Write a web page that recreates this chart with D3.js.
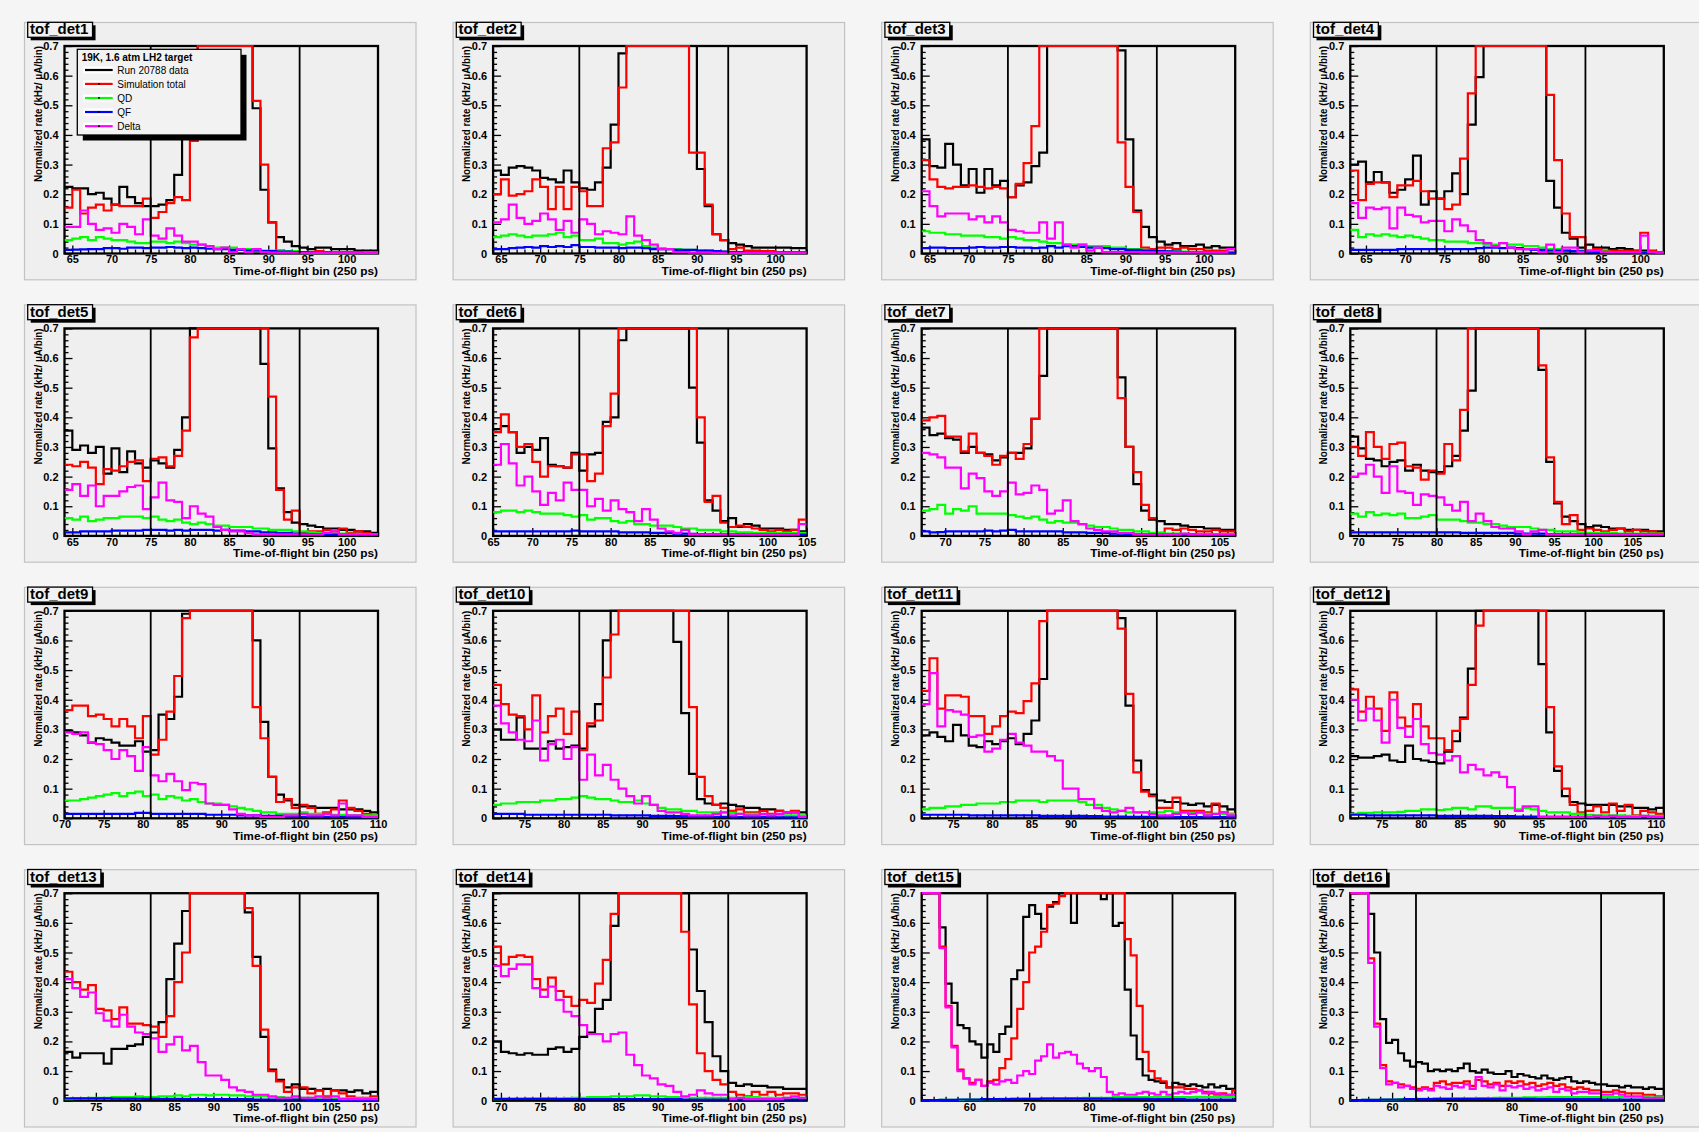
<!DOCTYPE html>
<html><head><meta charset="utf-8">
<script src="https://cdn.jsdelivr.net/npm/d3@7"></script>
<style>
html,body{margin:0;padding:0;background:#f5f5f5;}
svg{display:block;}
text{font-family:"Liberation Sans",Arial,Helvetica,sans-serif;}
</style></head><body>
<svg id="chart" width="1699" height="1132"></svg>
<script>
// ---------------- data ----------------
const detNames = ["tof_det1","tof_det2","tof_det3","tof_det4","tof_det5","tof_det6","tof_det7","tof_det8",
                  "tof_det9","tof_det10","tof_det11","tof_det12","tof_det13","tof_det14","tof_det15","tof_det16"];
const xMin = [64,64,64,63,64,65,67,69,70,71,71,71,71,69,52,53];
const xMax = [104,104,104,103,104,105,107,109,110,111,111,111,111,109,104.5,105.5];
const xTickStep = [5,5,5,5,5,5,5,5,5,5,5,5,5,5,10,10];
const cutLow  = [75,75,75,74,75,76,78,80,81,82,82,82,82,80,63,64];
const cutHigh = [94,94,94,93,94,95,97,99,100,101,101,101,101,99,94,95];
const yTicks = [0,0.1,0.2,0.3,0.4,0.5,0.6,0.7];
const legendTitle = "19K, 1.6 atm LH2 target";
const seriesLabels = ["Run 20788 data","Simulation total","QD","QF","Delta"];
const yTitle = "Normalized rate (kHz/ \u03bcA/bin)";
const xTitle = "Time-of-flight bin (250 ps)";

// values per bin (bin k covers [xMin+k, xMin+k+1]); values above 0.7 are off scale
const runData = [
 [.225,.22,.22,.20,.205,.185,.165,.225,.19,.17, .16,.16,.165,.18,.265,.42,.6,.9,.9,.9, .9,.9,.9,.9,.49,.215,.105,.055,.04,.025, .02,.015,.02,.02,.015,.015,.015,.01,.01,.01],
 [.28,.265,.29,.295,.29,.28,.255,.25,.24,.28, .24,.22,.215,.24,.29,.435,.675,.9,.9,.9, .9,.9,.9,.9,.9,.9,.285,.16,.065,.045, .035,.03,.025,.02,.02,.02,.02,.02,.018,.018],
 [.385,.295,.29,.37,.3,.23,.285,.205,.285,.23, .245,.19,.23,.24,.295,.34,.9,.9,.9,.9, .9,.9,.9,.9,.9,.685,.385,.145,.09,.055, .04,.03,.035,.025,.025,.03,.02,.025,.02,.02],
 [.3,.31,.24,.275,.24,.205,.215,.25,.33,.165, .21,.185,.21,.27,.2,.435,.595,.9,.9,.9, .9,.9,.9,.9,.9,.245,.155,.07,.05,.02, .03,.02,.02,.015,.018,.015,.01,.01,.008,.005],
 [.355,.29,.305,.28,.3,.21,.295,.215,.285,.245, .23,.255,.245,.23,.29,.4,.9,.9,.9,.9, .9,.9,.9,.9,.9,.58,.295,.16,.08,.045, .04,.035,.03,.025,.025,.02,.02,.015,.015,.01],
 [.36,.37,.35,.28,.3,.29,.33,.24,.235,.23, .28,.22,.275,.28,.385,.4,.66,.9,.9,.9, .9,.9,.9,.9,.9,.5,.315,.12,.085,.05, .06,.03,.04,.035,.025,.025,.025,.02,.02,.015],
 [.365,.34,.345,.33,.325,.28,.3,.28,.275,.255, .265,.28,.28,.295,.395,.54,.9,.9,.9,.9, .9,.9,.9,.9,.9,.535,.3,.175,.085,.055, .05,.04,.04,.035,.03,.03,.025,.025,.02,.02],
 [.335,.295,.26,.255,.235,.25,.255,.22,.24,.22, .215,.215,.235,.27,.355,.49,.9,.9,.9,.9, .9,.9,.9,.9,.56,.25,.11,.065,.05,.04, .03,.035,.03,.025,.025,.02,.02,.02,.015,.015],
 [.295,.29,.28,.255,.27,.265,.255,.245,.245,.26, .225,.23,.35,.335,.41,.69,.9,.9,.9,.9, .9,.9,.9,.9,.6,.325,.14,.08,.06,.045, .04,.04,.035,.035,.035,.03,.03,.03,.025,.02],
 [.3,.265,.265,.34,.235,.235,.235,.26,.235,.24, .245,.235,.31,.385,.6,.9,.9,.9,.9,.9, .9,.9,.9,.595,.355,.15,.065,.05,.045,.05, .045,.04,.035,.035,.03,.03,.025,.02,.02,.02],
 [.28,.29,.275,.26,.315,.28,.245,.24,.26,.25, .26,.27,.25,.285,.33,.47,.9,.9,.9,.9, .9,.9,.9,.9,.9,.675,.38,.195,.095,.08, .06,.055,.055,.05,.045,.05,.04,.045,.04,.03],
 [.21,.205,.205,.21,.215,.195,.19,.245,.2,.195, .19,.185,.225,.26,.34,.505,.9,.9,.9,.9, .9,.9,.9,.9,.52,.29,.16,.075,.055,.05, .045,.045,.045,.045,.04,.04,.035,.035,.03,.035],
 [.165,.145,.16,.16,.16,.125,.175,.175,.185,.19, .215,.23,.265,.41,.53,.64,.9,.9,.9,.9, .9,.9,.9,.635,.485,.215,.105,.07,.045,.055, .04,.04,.035,.04,.035,.035,.03,.035,.025,.03],
 [.2,.165,.16,.155,.16,.155,.155,.175,.18,.165, .175,.215,.23,.31,.34,.59,.9,.9,.9,.9, .9,.9,.9,.9,.9,.51,.37,.265,.15,.1, .06,.05,.055,.05,.05,.045,.045,.04,.04,.04],
 [.9,.9,.9,.585,.395,.33,.255,.245,.2,.19, .145,.19,.165,.225,.25,.41,.44,.62,.66,.63, .58,.655,.67,.9,.9,.6,.9,.9,.9,.9, .68,.9,.59,.6,.375,.22,.14,.085,.07,.065, .06,.045,.06,.055,.05,.055,.05,.045,.055,.045, .05,.04,.04],
 [.9,.9,.9,.63,.5,.275,.195,.205,.16,.135, .115,.13,.125,.1,.105,.1,.105,.1,.11,.125, .1,.095,.105,.095,.09,.09,.1,.08,.09,.085, .08,.075,.085,.075,.07,.075,.08,.065,.06,.065, .06,.055,.055,.05,.05,.045,.05,.045,.045,.04, .045,.04,.04]
];
const simTotal = [
 [.155,.215,.135,.155,.165,.145,.165,.16,.16,.16, .185,.12,.14,.17,.19,.18,.38,.9,.9,.9, .9,.9,.9,.9,.515,.30,.105,.01,.005,.005, .005,.005,.008,.005,.005,.005,.005,.005,.005,.003],
 [.2,.25,.195,.2,.21,.25,.225,.15,.225,.15, .225,.21,.16,.16,.355,.375,.56,.9,.9,.9, .9,.9,.9,.9,.9,.34,.34,.165,.065,.045, .015,.02,.01,.01,.008,.008,.005,.005,.005,.005],
 [.315,.25,.225,.22,.225,.225,.23,.225,.22,.225, .22,.19,.235,.305,.43,.9,.9,.9,.9,.9, .9,.9,.9,.9,.9,.375,.225,.14,.02,.015, .02,.02,.015,.02,.015,.015,.01,.01,.01,.015],
 [.28,.18,.235,.24,.24,.19,.23,.23,.245,.21, .185,.185,.15,.165,.32,.54,.9,.9,.9,.9, .9,.9,.9,.9,.9,.535,.315,.135,.055,.055, .01,.015,.01,.01,.01,.01,.008,.07,.01,.005],
 [.24,.235,.25,.23,.175,.225,.22,.235,.25,.255, .185,.26,.265,.235,.27,.355,.67,.9,.9,.9, .9,.9,.9,.9,.9,.9,.47,.155,.055,.085, .01,.015,.015,.02,.015,.025,.01,.015,.01,.005],
 [.35,.41,.35,.3,.31,.25,.2,.235,.235,.23, .275,.275,.185,.21,.37,.48,.9,.9,.9,.9, .9,.9,.9,.9,.9,.9,.4,.115,.135,.045, .03,.035,.03,.025,.02,.015,.02,.015,.02,.055],
 [.39,.4,.405,.335,.335,.285,.345,.28,.27,.24, .27,.28,.26,.31,.395,.9,.9,.9,.9,.9, .9,.9,.9,.9,.9,.465,.3,.215,.105,.06, .01,.025,.02,.025,.02,.015,.015,.02,.015,.015],
 [.3,.27,.35,.3,.26,.31,.315,.235,.23,.19, .22,.21,.31,.255,.425,.9,.9,.9,.9,.9, .9,.9,.9,.9,.575,.265,.115,.04,.07,.02, .025,.02,.015,.02,.025,.015,.02,.015,.015,.01],
 [.365,.38,.38,.345,.35,.335,.31,.335,.31,.27, .345,.215,.265,.36,.48,.675,.9,.9,.9,.9, .9,.9,.9,.9,.375,.27,.14,.055,.065,.035, .045,.035,.015,.02,.03,.06,.035,.025,.015,.01],
 [.45,.385,.35,.345,.3,.415,.29,.345,.37,.285, .36,.23,.32,.33,.475,.62,.9,.9,.9,.9, .9,.9,.9,.9,.9,.375,.14,.075,.045,.035, .025,.03,.02,.02,.025,.015,.025,.02,.025,.005],
 [.43,.54,.37,.415,.415,.41,.345,.345,.285,.31, .345,.36,.355,.395,.455,.665,.9,.9,.9,.9, .9,.9,.9,.9,.9,.64,.42,.155,.09,.075, .035,.035,.07,.025,.025,.025,.02,.05,.02,.015],
 [.435,.36,.41,.37,.295,.425,.34,.31,.385,.31, .27,.27,.23,.295,.335,.45,.65,.9,.9,.9, .9,.9,.9,.9,.9,.375,.175,.1,.045,.02, .025,.04,.02,.05,.025,.045,.01,.025,.02,.015],
 [.435,.4,.375,.39,.31,.305,.275,.315,.26,.26, .255,.25,.215,.285,.4,.5,.9,.9,.9,.9, .9,.9,.9,.65,.455,.24,.1,.065,.03,.045, .045,.025,.035,.015,.035,.025,.015,.01,.01,.015],
 [.52,.46,.485,.49,.485,.41,.375,.415,.37,.35, .32,.34,.33,.395,.475,.63,.9,.9,.9,.9, .9,.9,.9,.9,.57,.325,.16,.1,.07,.055, .03,.02,.015,.03,.02,.03,.02,.025,.025,.02],
 [.9,.9,.9,.52,.32,.185,.105,.075,.06,.07, .05,.065,.07,.11,.14,.21,.31,.4,.5,.52, .57,.66,.665,.69,.9,.9,.9,.9,.9,.9, .9,.9,.9,.9,.545,.49,.32,.165,.1,.075, .065,.045,.045,.045,.04,.04,.035,.03,.025,.02, .025,.02,.035],
 [.9,.9,.9,.48,.26,.12,.065,.06,.055,.05, .045,.04,.045,.04,.06,.065,.055,.06,.06,.065, .05,.07,.065,.055,.06,.05,.065,.06,.065,.055, .06,.05,.055,.06,.05,.055,.045,.04,.045,.04, .035,.035,.03,.03,.035,.03,.025,.025,.025,.02, .02,.015,.015]
];
const qdSim = [
 [.045,.05,.055,.045,.055,.05,.045,.045,.04,.035, .035,.04,.04,.035,.04,.035,.03,.03,.025,.02, .02,.02,.015,.015,.015,.01,.01,.01,.008,.008, .005,.005,.005,.005,.005,.005,.005,.004,.004,.004],
 [.055,.06,.065,.06,.055,.06,.06,.065,.07,.055, .06,.045,.045,.05,.035,.035,.03,.035,.04,.025, .02,.018,.015,.015,.012,.012,.01,.01,.008,.006, .005,.005,.005,.004,.004,.004,.003,.003,.003,.003],
 [.075,.07,.07,.065,.065,.06,.06,.06,.055,.055, .05,.055,.05,.045,.045,.04,.035,.035,.03,.03, .03,.025,.025,.025,.02,.02,.015,.015,.012,.01, .01,.008,.007,.006,.005,.005,.005,.004,.004,.004],
 [.08,.055,.065,.06,.065,.06,.055,.06,.055,.05, .045,.045,.04,.04,.04,.035,.035,.03,.03,.035, .03,.03,.025,.025,.02,.015,.015,.01,.01,.01, .008,.007,.006,.005,.005,.005,.004,.004,.004,.004],
 [.06,.055,.065,.05,.055,.06,.06,.065,.065,.065, .06,.065,.055,.05,.055,.045,.04,.045,.04,.035, .035,.03,.03,.03,.025,.025,.02,.02,.02,.015, .015,.012,.01,.01,.008,.008,.007,.006,.005,.005],
 [.08,.085,.085,.08,.085,.08,.075,.075,.075,.07, .065,.07,.055,.06,.06,.05,.045,.05,.04,.04, .035,.035,.035,.03,.025,.025,.02,.02,.02,.015, .015,.012,.012,.01,.01,.01,.01,.01,.01,.01],
 [.085,.09,.105,.075,.09,.085,.1,.075,.075,.075, .075,.07,.065,.06,.065,.055,.045,.05,.045,.045, .04,.035,.03,.03,.025,.02,.02,.015,.015,.01, .01,.008,.008,.007,.006,.005,.005,.005,.005,.005],
 [.075,.065,.08,.07,.075,.07,.075,.06,.06,.065, .07,.055,.055,.055,.05,.045,.045,.04,.04,.035, .03,.03,.03,.025,.02,.02,.015,.015,.015,.012, .01,.01,.01,.01,.008,.008,.008,.008,.008,.008],
 [.06,.06,.065,.07,.075,.08,.085,.075,.085,.09, .075,.08,.065,.075,.07,.06,.065,.055,.05,.05, .045,.04,.035,.03,.025,.02,.02,.015,.015,.015, .02,.015,.015,.015,.012,.012,.01,.01,.01,.01],
 [.045,.05,.05,.055,.055,.055,.06,.06,.065,.065, .07,.075,.07,.065,.065,.06,.055,.055,.06,.05, .045,.035,.03,.03,.025,.025,.02,.02,.02,.02, .018,.015,.015,.015,.012,.012,.01,.01,.01,.01],
 [.03,.035,.035,.04,.04,.045,.045,.05,.05,.05, .055,.055,.06,.06,.06,.055,.06,.06,.06,.06, .055,.045,.045,.035,.03,.025,.02,.02,.02,.02, .02,.025,.02,.02,.018,.018,.015,.015,.015,.015],
 [.015,.018,.018,.02,.02,.02,.022,.025,.025,.03, .03,.028,.03,.035,.035,.03,.04,.04,.035,.035, .035,.03,.035,.03,.025,.02,.02,.02,.015,.015, .012,.01,.01,.01,.01,.008,.008,.008,.008,.008],
 [.005,.008,.008,.01,.01,.01,.012,.012,.012,.015, .012,.012,.015,.015,.018,.015,.02,.02,.018,.02, .02,.018,.018,.015,.015,.015,.012,.012,.01,.01, .01,.01,.01,.01,.008,.008,.008,.008,.008,.008],
 [.005,.006,.006,.006,.007,.007,.008,.008,.008,.009, .01,.01,.012,.012,.012,.015,.015,.015,.018,.018, .015,.015,.012,.012,.012,.01,.01,.01,.01,.01, .01,.01,.012,.012,.01,.01,.01,.01,.01,.01],
 [.002,.002,.002,.003,.003,.003,.003,.004,.004,.004, .005,.005,.005,.006,.006,.006,.006,.007,.007,.007, .008,.008,.008,.008,.009,.009,.009,.01,.01,.01, .01,.01,.012,.012,.012,.012,.012,.012,.012,.012, .012,.012,.012,.012,.012,.012,.013,.013,.013,.013, .013,.013,.013],
 [.002,.002,.003,.003,.003,.004,.004,.004,.005,.005, .005,.006,.006,.006,.007,.007,.007,.008,.008,.008, .008,.009,.009,.009,.01,.01,.01,.01,.01,.011, .011,.011,.011,.012,.012,.012,.012,.012,.012,.012, .012,.012,.012,.012,.012,.012,.012,.012,.012,.012, .011,.011,.011]
];
const qfSim = [
 [.012,.013,.014,.015,.015,.018,.018,.016,.02,.02, .018,.02,.02,.022,.02,.018,.02,.018,.016,.015, .015,.012,.012,.01,.01,.008,.008,.006,.006,.005, .005,.004,.004,.004,.003,.003,.003,.003,.002,.002],
 [.015,.015,.018,.02,.022,.02,.025,.022,.025,.022, .028,.022,.022,.02,.02,.02,.018,.02,.02,.018, .015,.015,.015,.012,.012,.012,.01,.01,.008,.006, .005,.005,.004,.004,.004,.003,.003,.003,.003,.003],
 [.018,.02,.02,.018,.018,.018,.02,.022,.02,.02, .022,.022,.02,.02,.018,.02,.025,.02,.025,.025, .022,.02,.02,.018,.015,.015,.012,.012,.01,.01, .008,.007,.006,.005,.005,.004,.004,.003,.003,.003],
 [.012,.012,.012,.012,.012,.012,.015,.015,.015,.015, .015,.015,.015,.015,.015,.015,.018,.02,.02,.018, .02,.018,.015,.012,.012,.01,.01,.01,.008,.007, .006,.005,.005,.004,.004,.004,.003,.003,.003,.003],
 [.012,.012,.015,.015,.015,.015,.018,.018,.018,.018, .02,.02,.02,.018,.02,.018,.02,.02,.02,.018, .02,.018,.018,.015,.015,.012,.012,.01,.01,.008, .007,.006,.005,.005,.004,.004,.004,.003,.003,.003],
 [.015,.015,.015,.015,.015,.015,.015,.015,.015,.015, .018,.015,.015,.015,.015,.015,.012,.012,.012,.012, .01,.01,.01,.008,.008,.007,.006,.005,.005,.005, .005,.005,.004,.004,.004,.004,.004,.004,.004,.004],
 [.015,.012,.013,.015,.015,.015,.015,.015,.018,.015, .018,.02,.015,.015,.015,.015,.015,.015,.012,.012, .012,.01,.01,.01,.008,.008,.006,.005,.005,.005, .004,.004,.004,.004,.004,.003,.003,.003,.003,.003],
 [.012,.012,.012,.012,.012,.012,.012,.012,.012,.012, .012,.012,.012,.012,.01,.01,.01,.01,.01,.01, .01,.008,.008,.008,.008,.006,.006,.005,.005,.005, .004,.004,.004,.004,.004,.004,.004,.004,.004,.004],
 [.015,.015,.015,.015,.015,.015,.015,.015,.015,.018, .018,.015,.015,.015,.015,.015,.015,.015,.012,.012, .012,.012,.01,.01,.01,.008,.008,.008,.006,.006, .005,.005,.005,.005,.005,.005,.004,.004,.004,.004],
 [.015,.015,.015,.015,.012,.012,.012,.012,.012,.012, .012,.012,.012,.012,.012,.01,.01,.01,.01,.01, .008,.008,.008,.007,.007,.006,.006,.005,.005,.005, .004,.004,.004,.004,.004,.004,.003,.003,.003,.003],
 [.012,.012,.012,.012,.012,.012,.01,.01,.01,.01, .01,.01,.01,.01,.01,.008,.008,.008,.008,.008, .008,.007,.007,.006,.006,.006,.005,.005,.005,.005, .005,.004,.004,.004,.004,.004,.004,.004,.004,.004],
 [.012,.012,.01,.01,.01,.01,.01,.01,.01,.01, .01,.008,.008,.008,.008,.008,.008,.008,.007,.007, .007,.006,.006,.006,.005,.005,.005,.005,.005,.005, .004,.004,.004,.004,.004,.004,.004,.004,.004,.004],
 [.008,.008,.008,.008,.008,.008,.007,.007,.007,.007, .006,.006,.006,.006,.006,.005,.005,.005,.005,.005, .005,.005,.005,.005,.004,.004,.004,.004,.004,.004, .004,.003,.003,.003,.003,.003,.003,.003,.003,.003],
 [.006,.006,.006,.006,.006,.006,.006,.006,.005,.005, .005,.005,.005,.005,.005,.005,.005,.005,.005,.005, .005,.005,.005,.005,.004,.004,.004,.004,.004,.004, .004,.004,.004,.004,.004,.004,.004,.004,.004,.004],
 [.002,.002,.002,.003,.003,.003,.004,.004,.004,.004, .005,.005,.005,.005,.005,.006,.006,.006,.006,.006, .007,.007,.007,.007,.007,.007,.007,.007,.007,.007, .007,.007,.006,.006,.006,.006,.006,.006,.005,.005, .005,.005,.005,.005,.004,.004,.004,.004,.004,.004, .004,.004,.004],
 [.002,.002,.003,.003,.003,.004,.004,.004,.004,.005, .005,.005,.005,.005,.006,.006,.006,.006,.006,.006, .006,.006,.006,.006,.006,.006,.006,.006,.006,.006, .006,.005,.005,.005,.005,.005,.005,.005,.005,.005, .005,.005,.004,.004,.004,.004,.004,.004,.004,.004, .004,.004,.004]
];
const deltaSim = [
 [.09,.09,.145,.10,.08,.085,.07,.10,.09,.065, .115,.06,.05,.085,.06,.04,.04,.03,.025,.015, .02,.005,.015,.005,.015,.005,.003,.003,.003,.003, .002,.002,.002,.002,.002,.002,.002,.002,.002,.002],
 [.105,.115,.165,.12,.1,.11,.135,.115,.08,.11, .07,.115,.1,.065,.075,.07,.065,.125,.06,.045, .03,.015,.015,.005,.005,.003,.003,.003,.002,.002, .002,.002,.002,.002,.002,.002,.002,.002,.002,.002],
 [.21,.16,.125,.135,.135,.135,.115,.125,.105,.125, .105,.08,.075,.07,.07,.105,.05,.105,.03,.02, .03,.01,.02,.005,.005,.005,.005,.005,.004,.004, .004,.004,.004,.004,.004,.004,.004,.004,.004,.015],
 [.17,.12,.155,.15,.155,.085,.155,.13,.125,.105, .11,.11,.075,.115,.095,.075,.045,.035,.025,.035, .02,.015,.015,.015,.005,.03,.005,.02,.02,.005, .01,.01,.005,.005,.005,.005,.005,.06,.005,.003],
 [.155,.175,.135,.17,.1,.135,.135,.15,.165,.17, .09,.13,.18,.12,.115,.06,.1,.075,.065,.03, .02,.015,.015,.01,.005,.005,.005,.005,.005,.005, .005,.005,.005,.01,.015,.005,.005,.005,.005,.005],
 [.24,.31,.245,.17,.2,.15,.105,.145,.12,.18, .155,.155,.1,.125,.085,.12,.09,.08,.05,.09, .055,.025,.015,.01,.02,.005,.005,.005,.005,.005, .005,.005,.005,.005,.005,.005,.005,.005,.005,.04],
 [.28,.275,.265,.23,.23,.16,.21,.195,.15,.135, .15,.18,.14,.145,.17,.155,.075,.085,.12,.05, .04,.025,.02,.015,.015,.01,.01,.005,.005,.005, .005,.005,.005,.008,.005,.005,.005,.005,.005,.005],
 [.2,.21,.24,.2,.145,.235,.15,.145,.105,.14, .135,.13,.105,.085,.115,.05,.075,.05,.03,.025, .025,.015,.005,.015,.02,.005,.005,.005,.005,.005, .005,.005,.005,.005,.005,.005,.005,.005,.005,.005],
 [.29,.285,.29,.255,.25,.23,.2,.23,.21,.16, .24,.145,.125,.15,.125,.095,.12,.115,.05,.045, .045,.03,.015,.01,.01,.005,.005,.005,.01,.01, .015,.01,.01,.015,.01,.05,.01,.01,.005,.005],
 [.38,.32,.29,.265,.26,.33,.195,.25,.265,.2, .24,.13,.215,.145,.18,.13,.1,.075,.05,.075, .045,.025,.02,.02,.015,.01,.01,.01,.015,.02, .01,.015,.01,.01,.015,.01,.015,.02,.02,.005],
 [.385,.49,.31,.365,.36,.35,.275,.28,.225,.235, .265,.285,.255,.245,.225,.225,.21,.195,.1,.1, .065,.065,.035,.025,.02,.025,.035,.02,.02,.015, .01,.01,.015,.02,.015,.02,.01,.015,.02,.01],
 [.4,.33,.37,.33,.255,.4,.305,.275,.335,.25, .22,.215,.195,.21,.155,.18,.165,.145,.155,.14, .105,.025,.04,.04,.005,.005,.005,.005,.005,.005, .005,.008,.005,.008,.005,.005,.005,.008,.005,.005],
 [.41,.38,.35,.365,.295,.27,.25,.29,.25,.23, .225,.21,.165,.19,.215,.17,.185,.13,.085,.085, .07,.045,.035,.03,.02,.02,.015,.01,.01,.015, .01,.01,.015,.01,.015,.005,.005,.005,.005,.005],
 [.455,.42,.445,.46,.46,.38,.35,.385,.34,.3, .285,.255,.225,.225,.2,.225,.23,.155,.12,.085, .075,.055,.05,.03,.015,.02,.035,.025,.02,.02, .005,.01,.005,.005,.005,.005,.005,.01,.015,.01],
 [.9,.9,.9,.515,.315,.18,.1,.075,.055,.07, .05,.06,.055,.065,.07,.06,.085,.1,.09,.135, .15,.19,.145,.16,.165,.155,.125,.11,.1,.11, .08,.03,.02,.025,.02,.02,.025,.03,.025,.02, .03,.02,.025,.03,.025,.03,.035,.025,.03,.025, .02,.02,.02],
 [.9,.9,.9,.465,.25,.11,.055,.06,.045,.05, .04,.035,.04,.035,.05,.045,.04,.05,.045,.055, .04,.08,.05,.045,.055,.035,.05,.045,.05,.04, .045,.035,.04,.045,.03,.04,.035,.025,.03,.03, .025,.025,.02,.02,.025,.02,.015,.015,.015,.01, .01,.01,.01]
];
const seriesColors = ["#000000","#ff0000","#00ff00","#0000ff","#ff00ff"];

// ---------------- drawing ----------------
const W = 1699, H = 1132;
const svg = d3.select("#chart");
svg.append("rect").attr("width", W).attr("height", H).attr("fill", "#f5f5f5");

const colX = [24, 452.6, 881.2, 1309.8];
const rowY = [22, 304.4, 586.8, 869.2];
const PW = 391.5, PH = 257.3;
const FL = 40.5, FR = 354, FT = 24, FB = 231.5;
const seriesData = [runData, simTotal, qdSim, qfSim, deltaSim];
const drawOrder = [0, 1, 2, 3, 4];

detNames.forEach((name, i) => {
  const c = i % 4, r = Math.floor(i / 4);
  const g = svg.append("g").attr("transform", `translate(${colX[c]},${rowY[r]})`);
  g.append("rect").attr("x", 0.5).attr("y", 0.5).attr("width", PW).attr("height", PH)
    .attr("fill", "#efefef").attr("stroke", "#c2c2c2").attr("stroke-width", 1.2);

  const x = d3.scaleLinear().domain([xMin[i], xMax[i]]).range([FL, FR]);
  const y = d3.scaleLinear().domain([0, 0.7]).range([FB, FT]).clamp(true);

  // frame
  g.append("rect").attr("x", FL).attr("y", FT).attr("width", FR - FL).attr("height", FB - FT)
    .attr("fill", "#efefef").attr("stroke", "#000").attr("stroke-width", 2.3);

  // axes (ticks inside the frame)
  const step = xTickStep[i];
  const majors = d3.range(Math.ceil(xMin[i] / step) * step, xMax[i] + 0.001, step);
  const minorStep = step === 5 ? 1 : 2;
  const minors = d3.range(Math.ceil(xMin[i] / minorStep) * minorStep, xMax[i] + 0.001, minorStep)
    .filter(v => majors.indexOf(v) < 0);
  const yMinors = d3.range(0, 0.7001, 0.02).map(v => +v.toFixed(2)).filter(v => yTicks.indexOf(v) < 0);

  const xa = g.append("g").attr("transform", `translate(0,${FB})`)
    .call(d3.axisBottom(x).tickValues(majors).tickSizeInner(-8).tickSizeOuter(0).tickPadding(2).tickFormat(d3.format("d")));
  xa.select(".domain").remove();
  xa.selectAll("text").attr("font-size", 11).attr("font-weight", "bold").attr("fill", "#000");
  xa.selectAll("line").attr("stroke", "#000").attr("stroke-width", 1.3);
  const xm = g.append("g").attr("transform", `translate(0,${FB})`)
    .call(d3.axisBottom(x).tickValues(minors).tickSizeInner(-4).tickSizeOuter(0).tickFormat(""));
  xm.select(".domain").remove();
  xm.selectAll("line").attr("stroke", "#000").attr("stroke-width", 1.3);

  const ya = g.append("g").attr("transform", `translate(${FL},0)`)
    .call(d3.axisLeft(y).tickValues(yTicks).tickSizeInner(-8).tickSizeOuter(0).tickPadding(6)
      .tickFormat(d => d === 0 ? "0" : d3.format(".1f")(d)));
  ya.select(".domain").remove();
  ya.selectAll("text").attr("font-size", 11).attr("font-weight", "bold").attr("fill", "#000");
  ya.selectAll("line").attr("stroke", "#000").attr("stroke-width", 1.3);
  const ym = g.append("g").attr("transform", `translate(${FL},0)`)
    .call(d3.axisLeft(y).tickValues(yMinors).tickSizeInner(-4).tickSizeOuter(0).tickFormat(""));
  ym.select(".domain").remove();
  ym.selectAll("line").attr("stroke", "#000").attr("stroke-width", 1.3);

  // histograms
  const clipId = "clip" + i;
  g.append("clipPath").attr("id", clipId).append("rect")
    .attr("x", FL).attr("y", FT - 2).attr("width", FR - FL).attr("height", FB - FT + 3);
  const line = d3.line().x(d => x(d[0])).y(d => y(d[1])).curve(d3.curveStepAfter);
  drawOrder.forEach(s => {
    const vals = seriesData[s][i];
    const pts = vals.map((v, k) => [xMin[i] + k, v]);
    pts.push([xMin[i] + vals.length, vals[vals.length - 1]]);
    g.append("path").attr("d", line(pts)).attr("fill", "none")
      .attr("stroke", seriesColors[s]).attr("stroke-width", 2.2)
      .attr("stroke-linejoin", "miter").attr("clip-path", `url(#${clipId})`);
  });

  // cut lines
  [cutLow[i], cutHigh[i]].forEach(cv => {
    g.append("line").attr("x1", x(cv)).attr("x2", x(cv)).attr("y1", y(0)).attr("y2", y(0.7))
      .attr("stroke", "#000").attr("stroke-width", 1.8);
  });

  // axis titles
  g.append("text").attr("x", FR).attr("y", 253).attr("text-anchor", "end")
    .attr("font-size", 11).attr("font-weight", "bold").attr("textLength", 145)
    .attr("lengthAdjust", "spacingAndGlyphs").text(xTitle);
  g.append("text").attr("transform", `translate(17.5,${FT}) rotate(-90)`).attr("text-anchor", "end")
    .attr("font-size", 11).attr("font-weight", "bold").attr("textLength", 136)
    .attr("lengthAdjust", "spacingAndGlyphs").text(yTitle);

  // title box
  const tb = g.append("g");
  const tt = tb.append("text").attr("x", 6).attr("y", 12.3).attr("font-size", 15)
    .attr("font-weight", "bold").text(name);
  const tw = tt.node().getComputedTextLength();
  tb.insert("rect", "text").attr("x", 3.7 + 3).attr("y", 0.3 + 3).attr("width", tw + 6.5).attr("height", 15).attr("fill", "#000");
  tb.insert("rect", "text").attr("x", 3.7).attr("y", 0.3).attr("width", tw + 6.5).attr("height", 15)
    .attr("fill", "#f2f2f2").attr("stroke", "#000").attr("stroke-width", 1.3);

  // legend on first panel
  if (i === 0) {
    const lg = g.append("g");
    lg.append("rect").attr("x", 53.3 + 5.5).attr("y", 27.3 + 5.5).attr("width", 163.7).attr("height", 85.7).attr("fill", "#000");
    lg.append("rect").attr("x", 53.3).attr("y", 27.3).attr("width", 163.7).attr("height", 85.7)
      .attr("fill", "#f2f2f2").attr("stroke", "#000").attr("stroke-width", 1.3);
    lg.append("text").attr("x", 57.7).attr("y", 38.8).attr("font-size", 10).attr("font-weight", "bold").text(legendTitle);
    const rowsY = [48, 61.9, 76, 90, 104.2];
    seriesLabels.forEach((lab, k) => {
      lg.append("rect").attr("x", 59.3).attr("y", rowsY[k] - 3.5).attr("width", 30).attr("height", 7).attr("fill", "#ffffff");
      lg.append("line").attr("x1", 61).attr("x2", 88.7).attr("y1", rowsY[k]).attr("y2", rowsY[k])
        .attr("stroke", seriesColors[k]).attr("stroke-width", 2.2);
      lg.append("circle").attr("cx", 75).attr("cy", rowsY[k]).attr("r", 1).attr("fill", "#000");
      lg.append("text").attr("x", 93.3).attr("y", rowsY[k] + 3.6).attr("font-size", 10).text(lab);
    });
  }
});
</script>
</body></html>
